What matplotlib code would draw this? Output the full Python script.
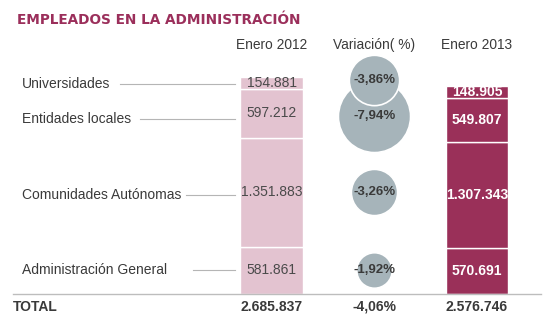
import numpy as np
import matplotlib
matplotlib.use("Agg")
import matplotlib.pyplot as plt

# datos
categorias = ["Administración General", "Comunidades Autónomas", "Entidades locales", "Universidades"]
enero_2012 = [581861, 1351883, 597212, 154881]
enero_2013 = [570691, 1307343, 549807, 148905]
variacion = [-1.92, -3.26, -7.94, -3.86]
total_2012 = 2685837
total_2013 = 2576746
variacion_total = -4.06
columnas = ["Enero 2012", "Variación( %)", "Enero 2013"]

ROSA = "#e3c3d0"
GRANATE = "#9a3059"
GRIS_BURBUJA = "#a6b4ba"
TEXTO = "#3a3a3a"

def miles(v):
    return f"{v:,}".replace(",", ".")

def pct(v):
    return f"{v:.2f}%".replace(".", ",")

# escala: empleados por pixel, pixels por columna
PX = 12360
UX = 102.75
X0 = 271.5  # pixel de la columna 2012

def px2x(p):
    return (p - X0) / UX

fig = plt.figure(figsize=(5.6, 3.34), dpi=100)
ax = fig.add_axes([0, 0, 1, 1])
ax.set_xlim(px2x(0), px2x(560))
ax.set_ylim(-40 * PX, 294 * PX)
ax.axis("off")

e12 = np.array(enero_2012)
e13 = np.array(enero_2013)
b12 = np.concatenate([[0], np.cumsum(e12)[:-1]])
b13 = np.concatenate([[0], np.cumsum(e13)[:-1]])

ax.bar(0, e12, width=0.61, bottom=b12, color=ROSA, edgecolor="white", linewidth=1)
ax.bar(2, e13, width=0.61, bottom=b13, color=GRANATE, edgecolor="white", linewidth=1)

for v, b in zip(e12, b12):
    ax.text(0, b + v / 2, miles(v), ha="center", va="center", fontsize=10,
            family="Liberation Sans", color="#4a4a4a")
for v, b in zip(e13, b13):
    ax.text(2, b + v / 2, miles(v), ha="center", va="center", fontsize=10,
            family="Liberation Sans", color="white", fontweight="bold")

# burbujas de variacion (area proporcional)
desp_burbuja = [0, 0, 3, -2.5]
y_burbuja = b12 + e12 / 2 - np.array(desp_burbuja) * PX
orden = np.argsort(np.abs(variacion))[::-1]
for z, i in enumerate(orden):
    ax.scatter(1, y_burbuja[i], s=340 * abs(variacion[i]), color=GRIS_BURBUJA,
               edgecolor="white", linewidth=1.2, zorder=3 + z)
    ax.text(1, y_burbuja[i], pct(variacion[i]), ha="center", va="center", fontsize=9.5,
            family="Liberation Sans", fontweight="bold", color=TEXTO, zorder=20)

# etiquetas de categoria con lineas guia
desp_linea = [0, 3, 6, 1]
inicio_linea = [193, 186, 140, 120]
y_linea = b12 + e12 / 2 - np.array(desp_linea) * PX
for cat, y, x1 in zip(categorias, y_linea, inicio_linea):
    ax.text(px2x(22), y, cat, ha="left", va="center", fontsize=10,
            family="Liberation Sans", color=TEXTO)
    ax.plot([px2x(x1), px2x(235)], [y, y], color="#b5b5b5", linewidth=0.8)

# cabeceras
for i, c in enumerate(columnas):
    ax.text(i, 249 * PX, c, ha="center", va="center", fontsize=9.9,
            family="Liberation Sans", color=TEXTO)

# linea base y totales
ax.plot([px2x(13), px2x(541)], [0, 0], color="#bdbdbd", linewidth=1)
y_tot = -12.7 * PX
ax.text(px2x(13), y_tot, "TOTAL", ha="left", va="center", fontsize=10,
        family="Liberation Sans", fontweight="bold", color=TEXTO)
for i, t in enumerate([miles(total_2012), pct(variacion_total), miles(total_2013)]):
    ax.text(i, y_tot, t, ha="center", va="center", fontsize=10,
            family="Liberation Sans", fontweight="bold", color=TEXTO)

fig.text(17 / 560, 1 - 20 / 334, "EMPLEADOS EN LA ADMINISTRACIÓN", ha="left", va="center",
         fontsize=9.8, fontweight="bold", family="DejaVu Sans", color="#9b2f5b")

fig.savefig("out.png", dpi=100)
